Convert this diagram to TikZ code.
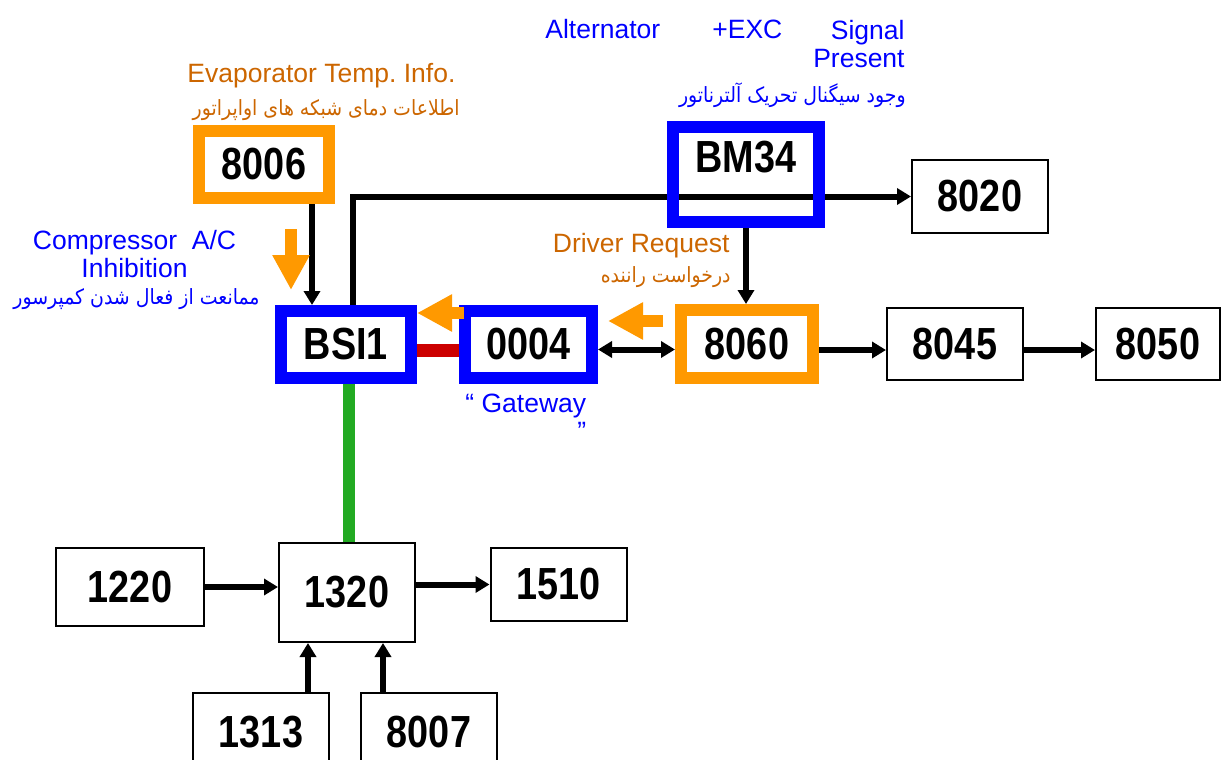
\documentclass[tikz,border=0pt]{standalone}
\usepackage{fontspec}
\usepackage{xcolor}
\usepackage{tikz}
\usetikzlibrary{arrows.meta,positioning,calc,backgrounds}
\setmainfont{Liberation Sans}
\newfontfamily\numfont[FakeStretch=0.84]{Liberation Sans}
\newfontfamily\arabicfont[Script=Arabic,FakeStretch=0.9]{DejaVu Sans}
\TeXXeTstate=1
\frenchspacing
\definecolor{hlblue}{RGB}{0,0,255}
\definecolor{hlorange}{RGB}{255,153,0}
\definecolor{txtorange}{RGB}{204,102,0}
\definecolor{busred}{RGB}{204,0,0}
\definecolor{busgreen}{RGB}{34,170,34}

\begin{document}
\begin{tikzpicture}[
    x=0.5pt, y=-0.5pt,
    bx/.style={rectangle, draw, line width=1pt, inner sep=0pt, minimum width=68pt, minimum height=36.5pt, font=\numfont\bfseries\fontsize{22.5}{24}\selectfont},
    bxblue/.style={bx, draw=hlblue, line width=6pt, minimum width=65pt, minimum height=33.5pt},
    bxorange/.style={bx, draw=hlorange, line width=6pt, minimum width=65pt, minimum height=33.5pt},
    arr/.style={-{Triangle[length=7pt, width=8pt]}, line width=3pt},
    darr/.style={{Triangle[length=7pt, width=8pt]}-{Triangle[length=7pt, width=8pt]}, line width=3pt},
    sig/.style={-{Triangle[length=17.5pt, width=17.5pt]}, line width=6pt, draw=hlorange},
    lbl/.style={inner sep=0pt, font=\fontsize{13.25}{14}\selectfont},
    fa/.style={inner sep=0pt, font=\arabicfont\fontsize{10.5}{12}\selectfont}
]
    \useasboundingbox (0,0) rectangle (1223,760);

    % highlighted units
    \node [bxorange] (n8006) at (264,164.5) {8006};
    \node [bxblue] (nbsi) at (346,344.5) {BSI1};
    \node [bxblue, minimum width=63.5pt] (n0004) at (528.5,344.5) {0004};
    \node [bxblue, minimum width=73pt, minimum height=47.5pt, text depth=18pt] (nbm) at (746,174.5) {BM34};
    \node [bxorange, minimum width=66pt, minimum height=34pt] (n8060) at (747,344) {8060};

    % other units
    \node [bx] (n8020) at (980,196.5) {8020};
    \node [bx, minimum height=36pt] (n8045) at (955,344) {8045};
    \node [bx, minimum width=62pt, minimum height=36pt] (n8050) at (1158,344) {8050};
    \node [bx, minimum width=74pt, minimum height=39pt] (n1220) at (130,587) {1220};
    \node [bx, minimum height=49.5pt] (n1320) at (347,592.5) {1320};
    \node [bx] (n1510) at (558.5,584.5) {1510};
    \node [bx, minimum height=39pt] (n1313) at (261,732) {1313};
    \node [bx, minimum height=39pt] (n8007) at (429,732) {8007};

    % links
    \begin{scope}[on background layer]
        \draw [line width=6.5pt, draw=busred] ([yshift=-3pt]nbsi.east) -- ([yshift=-3pt]nbsi.east -| n0004.west);
        \draw [line width=6pt, draw=busgreen] ([xshift=1.5pt]nbsi.south) -- ([xshift=1.5pt]nbsi.south |- n1320.north);
        \draw [arr] ([xshift=3.5pt]nbsi.north) |- (n8020.west);
        \draw [arr] ([xshift=24pt]n8006.south) -- ([xshift=24pt]n8006.south |- nbsi.north);
        \draw [arr] (nbm.south) -- (nbm.south |- n8060.north);
        \draw [darr] ([yshift=-2.5pt]n0004.east) -- ([yshift=-2.5pt]n0004.east -| n8060.west);
        \draw [arr] ([yshift=-3pt]n8060.east) -- ([yshift=-3pt]n8060.east -| n8045.west);
        \draw [arr] ([yshift=-3pt]n8045.east) -- ([yshift=-3pt]n8045.east -| n8050.west);
        \draw [arr] (n1220.east) -- (n1220.east -| n1320.west);
        \draw [arr] (n1320.east |- n1510.west) -- (n1510.west);
        \draw [arr] ([xshift=23.5pt]n1313.north) -- ([xshift=23.5pt]n1313.north |- n1320.south);
        \draw [arr] ([xshift=-23pt]n8007.north) -- ([xshift=-23pt]n8007.north |- n1320.south);
    \end{scope}

    % signal markers
    \draw [sig] (291,229) -- (291,290);
    \draw [sig] (464,313) -- (417,313);
    \draw [sig] (663,321) -- (608,321);

    % labels
    \node [lbl, text=txtorange, anchor=base west] (lEvap) at (187,83) {Evaporator Temp. Info.};
    \node [fa, text=txtorange, anchor=east] (lEvapFa) at (460,110) {\beginR اطلاعات دمای شبکه های اواپراتور\endR};
    \node [lbl, text=hlblue, anchor=north, align=center] (lComp) at (134.5,230) {Compressor\ \ A/C\\Inhibition};
    \node [fa, text=hlblue, anchor=east] (lCompFa) at (260,299) {\beginR ممانعت از فعال شدن کمپرسور\endR};
    \node [lbl, text=hlblue, anchor=base west] (lAlt) at (545,39) {Alternator};
    \node [lbl, text=hlblue, anchor=base west] (lExc) at (712,39) {+EXC};
    \node [lbl, text=hlblue, anchor=north east, align=right] (lSig) at (905,20) {Signal\\Present};
    \node [fa, text=hlblue, anchor=east] (lAltFa) at (906,95) {\beginR وجود سیگنال تحریک آلترناتور\endR};
    \node [lbl, text=txtorange, anchor=base east] (lDrv) at (730,252) {Driver Request};
    \node [fa, text=txtorange, anchor=east] (lDrvFa) at (731,277) {\beginR درخواست راننده\endR};
    \node [lbl, text=hlblue, anchor=north west, align=right] (lGw) at (465,394) {“ Gateway\\”};
\end{tikzpicture}
\end{document}
